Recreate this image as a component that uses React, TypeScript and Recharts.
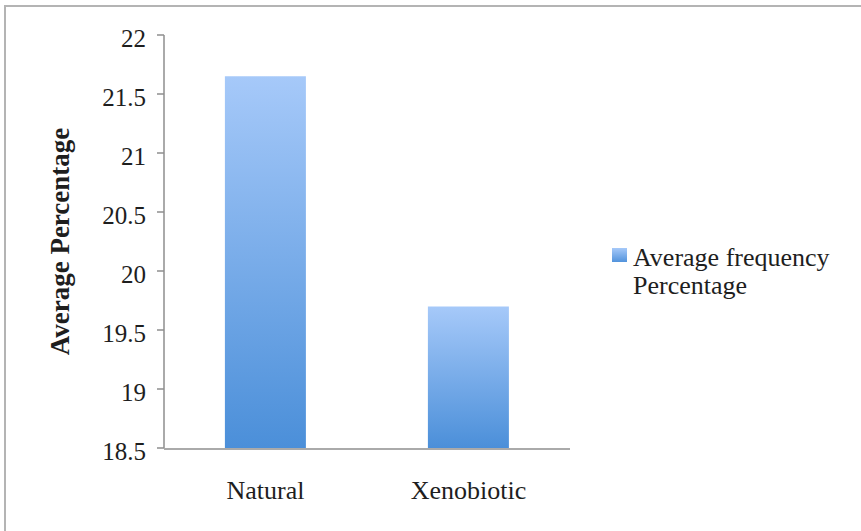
import { Bar, BarChart, Legend, XAxis, YAxis } from 'recharts';

const categories = ['Natural', 'Xenobiotic'];
const frequencyValues = [21.65, 19.7];
const yTicks = [18.5, 19, 19.5, 20, 20.5, 21, 21.5, 22];
const categoryEdges = [0, 1, 2];
const seriesName = 'Average frequency Percentage';
const yTitle = 'Average Percentage';

const data = categories.map((name, i) => ({ name, value: frequencyValues[i] }));

const font = "'Liberation Serif', serif";
const axisGray = '#8e8e8e';
const textColor = '#1e1e1e';

function LegendBox({ payload }: any) {
  const label = payload && payload[0] ? payload[0].value : seriesName;
  return (
    <div
      style={{
        display: 'flex',
        alignItems: 'flex-start',
        fontFamily: font,
        fontSize: 26,
        lineHeight: '28px',
        color: textColor,
        width: 240,
      }}
    >
      <svg width={15} height={14} style={{ marginTop: 4, marginRight: 6, flexShrink: 0 }}>
        <defs>
          <linearGradient id="legendFill" x1="0" y1="0" x2="0" y2="1">
            <stop offset="0%" stopColor="#a6c9f9" />
            <stop offset="100%" stopColor="#5293dc" />
          </linearGradient>
        </defs>
        <rect width={15} height={14} fill="url(#legendFill)" />
      </svg>
      <span>{label}</span>
    </div>
  );
}

export default function App() {
  return (
    <div style={{ position: 'fixed', left: 0, top: 0, width: 861, height: 531, background: '#fff', overflow: 'hidden' }}>
      <div
        style={{
          position: 'absolute',
          left: 4,
          top: 5,
          right: -10,
          bottom: -10,
          borderLeft: '2px solid #b4b4b4',
          borderTop: '2px solid #b4b4b4',
        }}
      />
      <div style={{ position: 'absolute', left: 0, top: 0 }}>
        <BarChart
          width={861}
          height={531}
          data={data}
          margin={{ top: 35, right: 51, left: 64, bottom: 81 }}
          barCategoryGap="30%"
        >
          <defs>
            <linearGradient id="barFill" x1="0" y1="0" x2="0" y2="1">
              <stop offset="0%" stopColor="#a6c9f9" />
              <stop offset="100%" stopColor="#4b8fd9" />
            </linearGradient>
          </defs>
          <XAxis
            xAxisId="edge"
            type="number"
            domain={[0, 2]}
            ticks={categoryEdges}
            height={1}
            tick={false}
            tickSize={8}
            axisLine={{ stroke: axisGray, strokeWidth: 1.5 }}
            tickLine={{ stroke: axisGray, strokeWidth: 1.5 }}
            allowDataOverflow
          />
          <XAxis
            xAxisId="cat"
            dataKey="name"
            height={1}
            axisLine={false}
            tickLine={false}
            tickMargin={27}
            tick={{ fontSize: 26, fill: textColor, fontFamily: font }}
          />
          <YAxis
            width={100}
            domain={[18.5, 22]}
            ticks={yTicks}
            allowDataOverflow
            tickSize={7}
            tickMargin={11}
            axisLine={{ stroke: axisGray, strokeWidth: 1.5 }}
            tickLine={{ stroke: axisGray, strokeWidth: 1.5 }}
            tick={{ fontSize: 25, fill: textColor, fontFamily: font, dy: 3 }}
            label={({ viewBox }: any) => {
              const cx = viewBox.x - 4;
              const cy = viewBox.y + viewBox.height / 2;
              return (
                <text
                  x={cx}
                  y={cy}
                  transform={`rotate(-90 ${cx} ${cy})`}
                  textAnchor="middle"
                  dominantBaseline="central"
                  fontFamily={font}
                  fontSize={27}
                  fontWeight="bold"
                  fill={textColor}
                >
                  {yTitle}
                </text>
              );
            }}
          />
          <Legend
            layout="vertical"
            align="right"
            verticalAlign="middle"
            content={<LegendBox />}
            wrapperStyle={{ left: 612, top: 244, width: 240 }}
          />
          <Bar
            xAxisId="cat"
            dataKey="value"
            name={seriesName}
            fill="url(#barFill)"
            isAnimationActive={false}
          />
        </BarChart>
      </div>
    </div>
  );
}
